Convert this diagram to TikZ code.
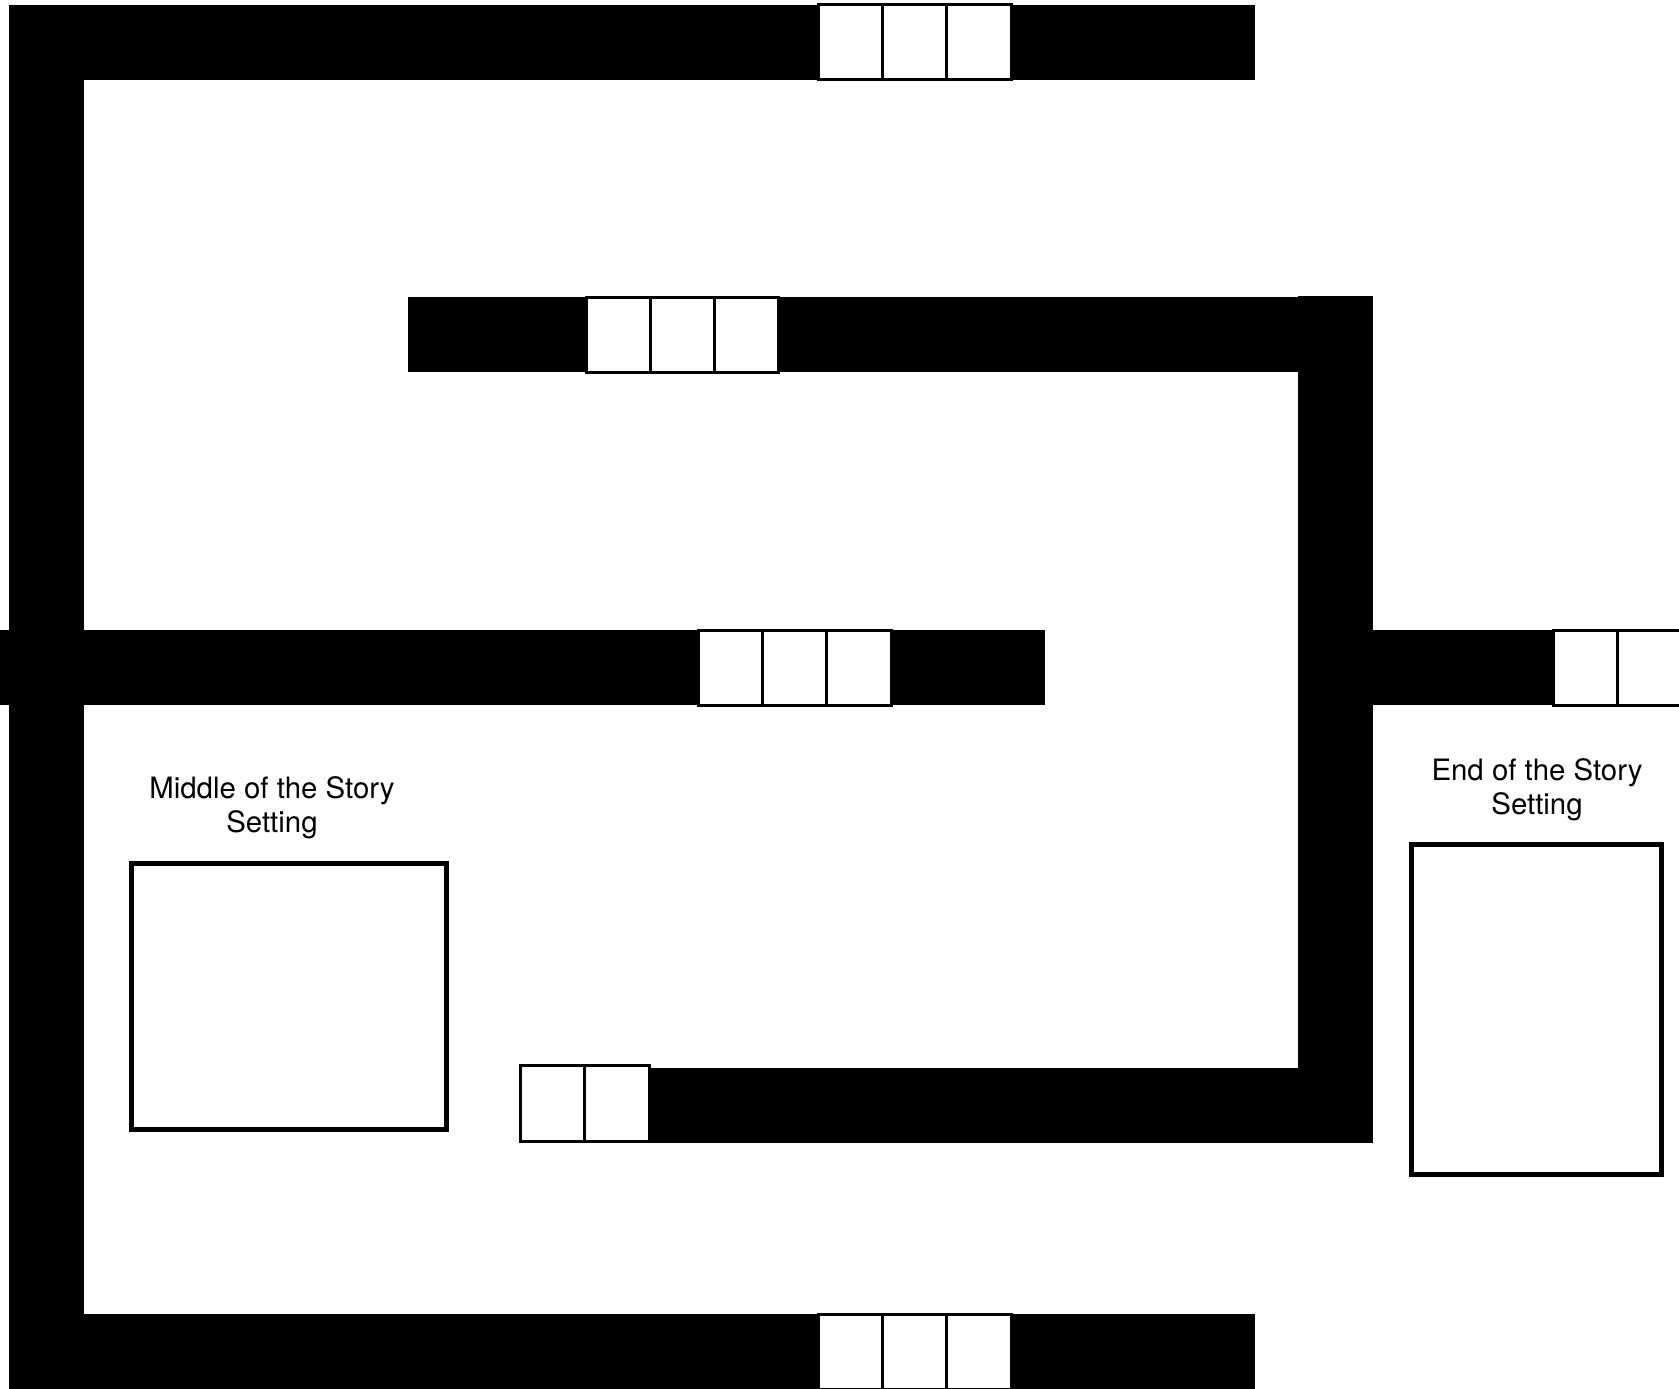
\documentclass[tikz,border=0pt]{standalone}
\usepackage{fontspec}
\setmainfont{TeX Gyre Heros}
\tikzset{
  track/.style={fill=black},
  cell/.style={draw=black, fill=white, line width=3pt},
  frame/.style={draw=black, line width=5pt, inner sep=0pt},
  caption/.style={align=center, inner sep=0pt, font=\fontsize{29.4}{34}\selectfont}
}

\begin{document}
\begin{tikzpicture}[x=1pt, y=-1pt]
  \useasboundingbox (0,0) rectangle (1679,1389);
  % outer track
  \fill[track] (9,5) rectangle (84,1389);
  \fill[track] (9,5) rectangle (1255,80);
  \fill[track] (9,1314) rectangle (1255,1389);
  \fill[track] (0,630) rectangle (1045,705);
  % inner track
  \fill[track] (408,297) rectangle (1373,372);
  \fill[track] (1298,296) rectangle (1373,1143);
  \fill[track] (647,1068) rectangle (1373,1143);
  \fill[track] (1373,630) rectangle (1679,705);
  % cells
  \foreach \i in {0,1,2} {
    \draw[cell] ({818+64.33*\i},5) rectangle ++(64.33,75);
    \draw[cell] ({586+64.33*\i},297) rectangle ++(64.33,75);
    \draw[cell] ({698+64.33*\i},630) rectangle ++(64.33,75);
    \draw[cell] ({818+64.33*\i},1314) rectangle ++(64.33,75);
  }
  \foreach \i in {0,1} {
    \draw[cell] ({1553+64*\i},630) rectangle ++(64,75);
    \draw[cell] ({520+64.5*\i},1065) rectangle ++(64.5,76);
  }
  % settings
  \node[frame, minimum width=315, minimum height=266] (midbox) at (289,996.5) {};
  \node[frame, minimum width=250, minimum height=330] (endbox) at (1536.5,1009.5) {};
  \node[caption] (midlabel) at (272,808) {Middle of the Story\\Setting};
  \node[caption] (endlabel) at (1537,789.5) {End of the Story\\Setting};
\end{tikzpicture}
\end{document}
